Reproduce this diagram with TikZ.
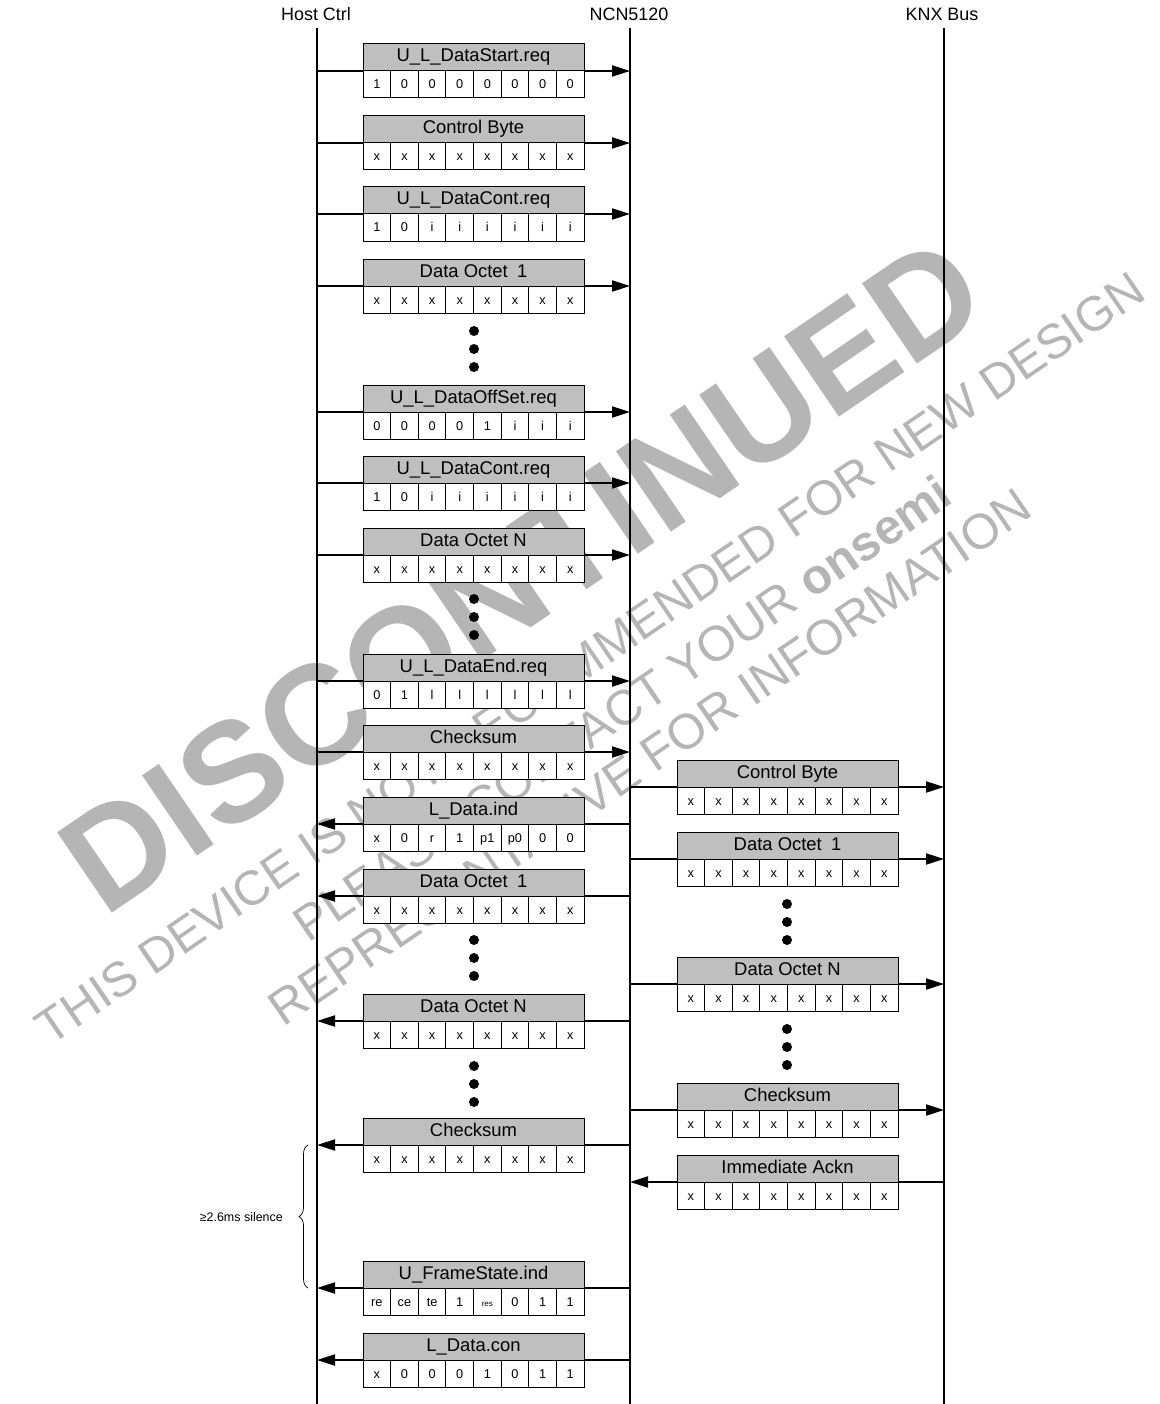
\documentclass[tikz,border=0pt]{standalone}
\usepackage{fontspec}
\setmainfont{Liberation Sans}
\usetikzlibrary{arrows.meta,decorations.pathreplacing}
\newcommand{\pdu}[5]{%
  \node[hdr] (#1) at (#2,#3) {#4};
  \foreach \v [count=\i from 0] in {#5} {
    \node[cell] (#1-\i) at ({#2+\i*27.625},{#3+27}) {\v};
  }
}
\begin{document}
\begin{tikzpicture}[x=1bp,y=-1bp,
  hdr/.style={draw, line width=1bp, fill=black!25, minimum width=221bp, minimum height=27bp, inner sep=0pt, outer sep=0pt, text height=13bp, text depth=4bp, font=\fontsize{18.5}{20}\selectfont, anchor=north west},
  cell/.style={draw, line width=1bp, fill=white, minimum width=27.625bp, minimum height=27bp, inner sep=0pt, outer sep=0pt, text height=9bp, text depth=0pt, font=\fontsize{12.8}{14}\selectfont, anchor=north west},
  life/.style={line width=2bp},
  msg/.style={line width=2bp, -{Triangle[length=18bp,width=11bp]}},
  lbl/.style={font=\fontsize{18}{20}\selectfont},
  dotn/.style={circle, fill=black, inner sep=0pt, minimum size=10bp},
  wm/.style={text=black!29, rotate=34.3, inner sep=0pt},
]
\useasboundingbox (0,0) rectangle (1159,1404);
% watermark
\node[wm, font=\bfseries\fontsize{142}{142}\selectfont] (wm0) at (522,575) {DISCONTINUED};
\node[wm, font=\fontsize{48.8}{50}\selectfont] (wm1) at (590,658) {THIS DEVICE IS NOT RECOMMENDED FOR NEW DESIGN};
\node[wm, font=\fontsize{49.5}{50}\selectfont] (wm2) at (622,708) {PLEASE CONTACT YOUR \textbf{onsemi}};
\node[wm, font=\fontsize{49.5}{50}\selectfont] (wm3) at (650,757) {REPRESENTATIVE FOR INFORMATION};
% lifelines
\node[lbl] (hostlbl) at (316,14) {Host Ctrl};
\node[lbl] (ncnlbl) at (629,14) {NCN5120};
\node[lbl] (knxlbl) at (942,14) {KNX Bus};
\coordinate (host) at (317,28); \coordinate (hostend) at (317,1404);
\coordinate (ncn) at (630,28); \coordinate (ncnend) at (630,1404);
\coordinate (knx) at (944,28); \coordinate (knxend) at (944,1404);
\draw[life] (host) -- (hostend);
\draw[life] (ncn) -- (ncnend);
\draw[life] (knx) -- (knxend);
% arrows (drawn below boxes)
\coordinate (yA1) at (0,71); \coordinate (yA2) at (0,143); \coordinate (yA3) at (0,214);
\coordinate (yA4) at (0,286); \coordinate (yA5) at (0,412); \coordinate (yA6) at (0,483);
\coordinate (yA7) at (0,555); \coordinate (yA8) at (0,681); \coordinate (yA9) at (0,752);
\coordinate (yA10) at (0,824); \coordinate (yA11) at (0,896); \coordinate (yA12) at (0,1021);
\coordinate (yA13) at (0,1145); \coordinate (yA14) at (0,1288); \coordinate (yA15) at (0,1360);
\coordinate (yB1) at (0,787); \coordinate (yB2) at (0,859); \coordinate (yB3) at (0,984);
\coordinate (yB4) at (0,1110); \coordinate (yB5) at (0,1182);
\foreach \r in {A1,A2,A3,A4,A5,A6,A7,A8,A9} { \draw[msg] (host |- y\r) -- (ncn |- y\r); }
\foreach \r in {A10,A11,A12,A13,A14,A15} { \draw[msg] (ncn |- y\r) -- (host |- y\r); }
\foreach \r in {B1,B2,B3,B4} { \draw[msg] (ncn |- y\r) -- (knx |- y\r); }
\draw[msg] (knx |- yB5) -- (ncn |- yB5);
% left boxes
\pdu{A1}{363}{44}{U\_L\_DataStart.req}{1,0,0,0,0,0,0,0}
\pdu{A2}{363}{116}{Control Byte}{x,x,x,x,x,x,x,x}
\pdu{A3}{363}{187}{U\_L\_DataCont.req}{1,0,i,i,i,i,i,i}
\pdu{A4}{363}{259}{Data Octet\enspace 1}{x,x,x,x,x,x,x,x}
\pdu{A5}{363}{385}{U\_L\_DataOffSet.req}{0,0,0,0,1,i,i,i}
\pdu{A6}{363}{456}{U\_L\_DataCont.req}{1,0,i,i,i,i,i,i}
\pdu{A7}{363}{528}{Data Octet N}{x,x,x,x,x,x,x,x}
\pdu{A8}{363}{654}{U\_L\_DataEnd.req}{0,1,l,l,l,l,l,l}
\pdu{A9}{363}{725}{Checksum}{x,x,x,x,x,x,x,x}
\pdu{A10}{363}{797}{L\_Data.ind}{x,0,r,1,p1,p0,0,0}
\pdu{A11}{363}{869}{Data Octet\enspace 1}{x,x,x,x,x,x,x,x}
\pdu{A12}{363}{994}{Data Octet N}{x,x,x,x,x,x,x,x}
\pdu{A13}{363}{1118}{Checksum}{x,x,x,x,x,x,x,x}
\pdu{A14}{363}{1261}{U\_FrameState.ind}{re,ce,te,1,{\fontsize{8}{9}\selectfont res},0,1,1}
\pdu{A15}{363}{1333}{L\_Data.con}{x,0,0,0,1,0,1,1}
% right boxes
\pdu{B1}{677}{760}{Control Byte}{x,x,x,x,x,x,x,x}
\pdu{B2}{677}{832}{Data Octet\enspace 1}{x,x,x,x,x,x,x,x}
\pdu{B3}{677}{957}{Data Octet N}{x,x,x,x,x,x,x,x}
\pdu{B4}{677}{1083}{Checksum}{x,x,x,x,x,x,x,x}
\pdu{B5}{677}{1155}{Immediate Ackn}{x,x,x,x,x,x,x,x}
% dots
\foreach \y [count=\k] in {331,349,367,599,617,635,940,958,976,1066,1084,1102} { \node[dotn] (ld\k) at (474,\y) {}; }
\foreach \y [count=\k] in {904,922,940,1029,1047,1065} { \node[dotn] (rd\k) at (787,\y) {}; }
% silence brace
\coordinate (brB) at (308,1288); \coordinate (brT) at (308,1145);
\draw[line width=0.7bp, decorate, decoration={brace, amplitude=9bp}] (brB) -- (brT);
\node[anchor=east, font=\fontsize{12.5}{14}\selectfont, inner sep=0pt] (sil) at (283,1217) {≥2.6ms silence};
\end{tikzpicture}
\end{document}
